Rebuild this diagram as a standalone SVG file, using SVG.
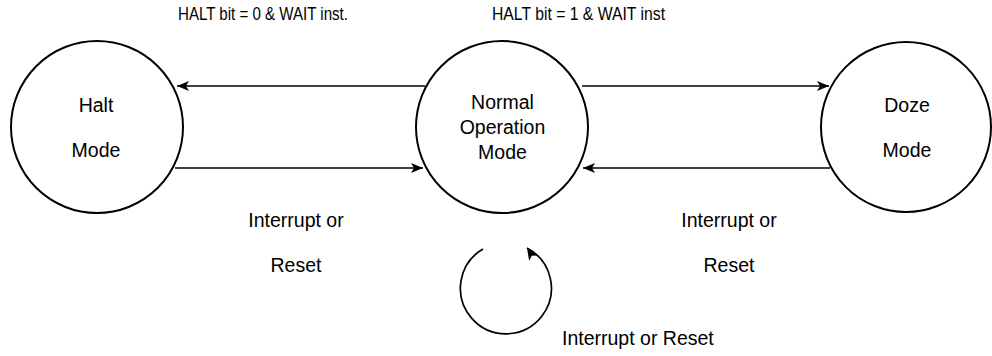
<svg xmlns="http://www.w3.org/2000/svg" width="992" height="356" viewBox="0 0 992 356">
<style>
.node{fill:#fff;stroke:#000;stroke-width:2}
.lbl{font-family:"Liberation Sans",Arial,sans-serif;font-size:19.5px;fill:#000;text-anchor:middle}
.top{font-family:"Liberation Sans",Arial,sans-serif;font-size:18px;fill:#000}
.edge{fill:none;stroke:#000;stroke-width:1.7}
</style>
<defs>
<marker id="ah" markerUnits="userSpaceOnUse" viewBox="0 0 12 10" refX="12" refY="5" markerWidth="12" markerHeight="10" orient="auto">
<path d="M0,0 L12,5 L0,10 L3,5 z" fill="#000"/>
</marker>
<marker id="ahLoop" markerUnits="userSpaceOnUse" viewBox="0 0 12 10" refX="12" refY="5" markerWidth="12" markerHeight="10" orient="-122">
<path d="M0,0 L12,5 L0,10 L3,5 z" fill="#000"/>
</marker>
</defs>
<g id="connectors">
<line class="edge" x1="425" y1="86" x2="177" y2="86" marker-end="url(#ah)"/>
<line class="edge" x1="175" y1="168" x2="423" y2="168" marker-end="url(#ah)"/>
<line class="edge" x1="582" y1="86" x2="829" y2="86" marker-end="url(#ah)"/>
<line class="edge" x1="830" y1="168" x2="583" y2="168" marker-end="url(#ah)"/>
<path class="edge" d="M483,249 A45.5,45.5 0 1 0 527,248" marker-end="url(#ahLoop)"/>
</g>
<g id="halt">
<circle class="node" cx="97" cy="127" r="86"/>
<text class="lbl" x="96" y="112">Halt</text>
<text class="lbl" x="96" y="157">Mode</text>
</g>
<g id="normal">
<circle class="node" cx="502" cy="127" r="86"/>
<text class="lbl" x="502.5" y="109">Normal</text>
<text class="lbl" x="502.5" y="134">Operation</text>
<text class="lbl" x="502.5" y="159">Mode</text>
</g>
<g id="doze">
<circle class="node" cx="906" cy="127" r="85"/>
<text class="lbl" x="907" y="112">Doze</text>
<text class="lbl" x="907" y="157">Mode</text>
</g>
<g id="labels">
<text class="top" x="178" y="20" textLength="170" lengthAdjust="spacingAndGlyphs">HALT bit = 0 &amp; WAIT inst.</text>
<text class="top" x="492" y="20" textLength="173" lengthAdjust="spacingAndGlyphs">HALT bit = 1 &amp; WAIT inst</text>
<text class="lbl" x="296" y="227">Interrupt or</text>
<text class="lbl" x="296" y="272">Reset</text>
<text class="lbl" x="729" y="227">Interrupt or</text>
<text class="lbl" x="729" y="272">Reset</text>
<text class="lbl" x="562" y="345" style="text-anchor:start">Interrupt or Reset</text>
</g>
</svg>
